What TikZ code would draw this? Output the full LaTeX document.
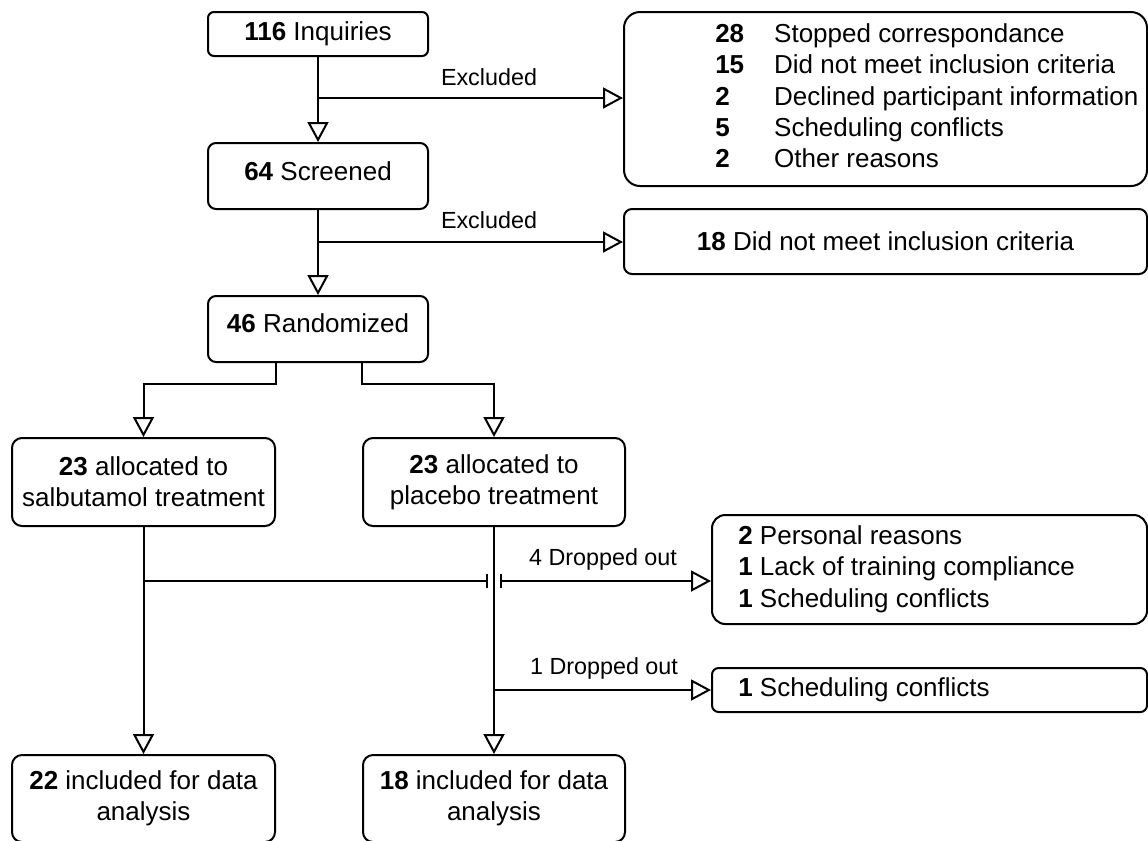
\documentclass[tikz,border=0pt]{standalone}
\usepackage{fontspec}
\setmainfont{Liberation Sans}
\usetikzlibrary{arrows.meta,calc}

\newcommand{\mainsize}{\fontsize{19.5pt}{23.5pt}\selectfont}
\newcommand{\lblsize}{\fontsize{17.5pt}{21pt}\selectfont}

\tikzset{
  box/.style={draw, line width=1.5pt, rounded corners=6pt, inner sep=0pt, align=center, font=\mainsize},
  txt/.style={inner sep=0pt, align=left, font=\mainsize},
  lbl/.style={inner sep=0pt, font=\lblsize},
  flow/.style={line width=1.5pt, ->},
}

\begin{document}
\begin{tikzpicture}[x=0.75pt,y=0.75pt,yscale=-1,xscale=1,
  >={Triangle[open,length=15pt,width=15.75pt]}]
\useasboundingbox (0,0) rectangle (1148,840);

% main column
\node[box, rounded corners=4.5pt, minimum width=165pt, minimum height=33pt] (inq) at (318,34) {\textbf{116} Inquiries};
\node[box, text depth=7.5pt, minimum width=165pt, minimum height=49.5pt] (scr) at (318,176) {\textbf{64} Screened};
\node[box, text depth=9pt, minimum width=165pt, minimum height=49.5pt] (rand) at (318,329) {\textbf{46} Randomized};

% exclusion boxes
\node[box, rounded corners=12pt, minimum width=392.25pt, minimum height=130.5pt] (excl1) at (885.5,99) {};
\node[txt, anchor=west] (excl1txt) at (715,99) {%
  \begin{tabular}{@{}l@{\hspace{22.5pt}}l@{}}
  \textbf{28} & Stopped correspondance\\
  \textbf{15} & Did not meet inclusion criteria\\
  \textbf{2}  & Declined participant information\\
  \textbf{5}  & Scheduling conflicts\\
  \textbf{2}  & Other reasons
  \end{tabular}};
\node[box, minimum width=392.25pt, minimum height=48.75pt] (excl2) at (885.5,241.5) {\textbf{18} Did not meet inclusion criteria};

% arms
\node[box, rounded corners=7.5pt, minimum width=197.25pt, minimum height=66pt] (salb) at (143.5,482) {\textbf{23} allocated to\\salbutamol treatment};
\node[box, rounded corners=7.5pt, minimum width=196.5pt, minimum height=66pt] (plac) at (494,482) {\textbf{23} allocated to\\placebo treatment};

% drop outs
\node[box, rounded corners=10pt, minimum width=326.25pt, minimum height=81.75pt] (drop1) at (929.5,569.5) {};
\node[txt, anchor=west] (drop1txt) at (738,569) {\textbf{2} Personal reasons\\\textbf{1} Lack of training compliance\\\textbf{1} Scheduling conflicts};
\node[box, rounded corners=5pt, minimum width=326.25pt, minimum height=33pt] (drop2) at (929.5,690) {};
\node[txt, anchor=west] (drop2txt) at (738,690) {\textbf{1} Scheduling conflicts};

% analysis
\node[box, rounded corners=7.5pt, minimum width=197.25pt, minimum height=65.25pt] (inc1) at (143.5,798.5) {\textbf{22} included for data\\analysis};
\node[box, rounded corners=7.5pt, minimum width=196.5pt, minimum height=65.25pt] (inc2) at (494,798.5) {\textbf{18} included for data\\analysis};

% connectors
\draw[flow] (inq.south) -- (scr.north);
\coordinate (ex1) at (318,98);
\draw[flow] (ex1) -- (ex1 -| excl1.west);
\node[lbl] (ex1lbl) at (489,77) {Excluded};

\draw[flow] (scr.south) -- (rand.north);
\coordinate (ex2) at (318,242);
\draw[flow] (ex2) -- (ex2 -| excl2.west);
\node[lbl] (ex2lbl) at (489,220) {Excluded};

\draw[flow] (rand.south -| salb.east) -- ++(0,21) -| (salb.north);
\draw[flow] (rand.south -| plac.west) -- ++(0,21) -| (plac.north);

\draw[flow] (salb.south) -- (inc1.north);
\draw[flow] (plac.south) -- (inc2.north);

% line jump over the placebo line
\coordinate (jmp) at (143,581);
\coordinate (gapl) at ($(plac.south |- jmp)+(-6,0)$);
\coordinate (gapr) at ($(plac.south |- jmp)+(6,0)$);
\draw[line width=1.5pt, -{Bar[width=10pt]}] (jmp) -- (gapl);
\draw[line width=1.5pt, {Bar[width=10pt]}->] (gapr) -- (gapr -| drop1.west);
\node[lbl] (d4lbl) at (603,559) {4 Dropped out};

\draw[flow] (plac.south |- drop2.west) -- (drop2.west);
\node[lbl] (d1lbl) at (604,668) {1 Dropped out};

\end{tikzpicture}
\end{document}
